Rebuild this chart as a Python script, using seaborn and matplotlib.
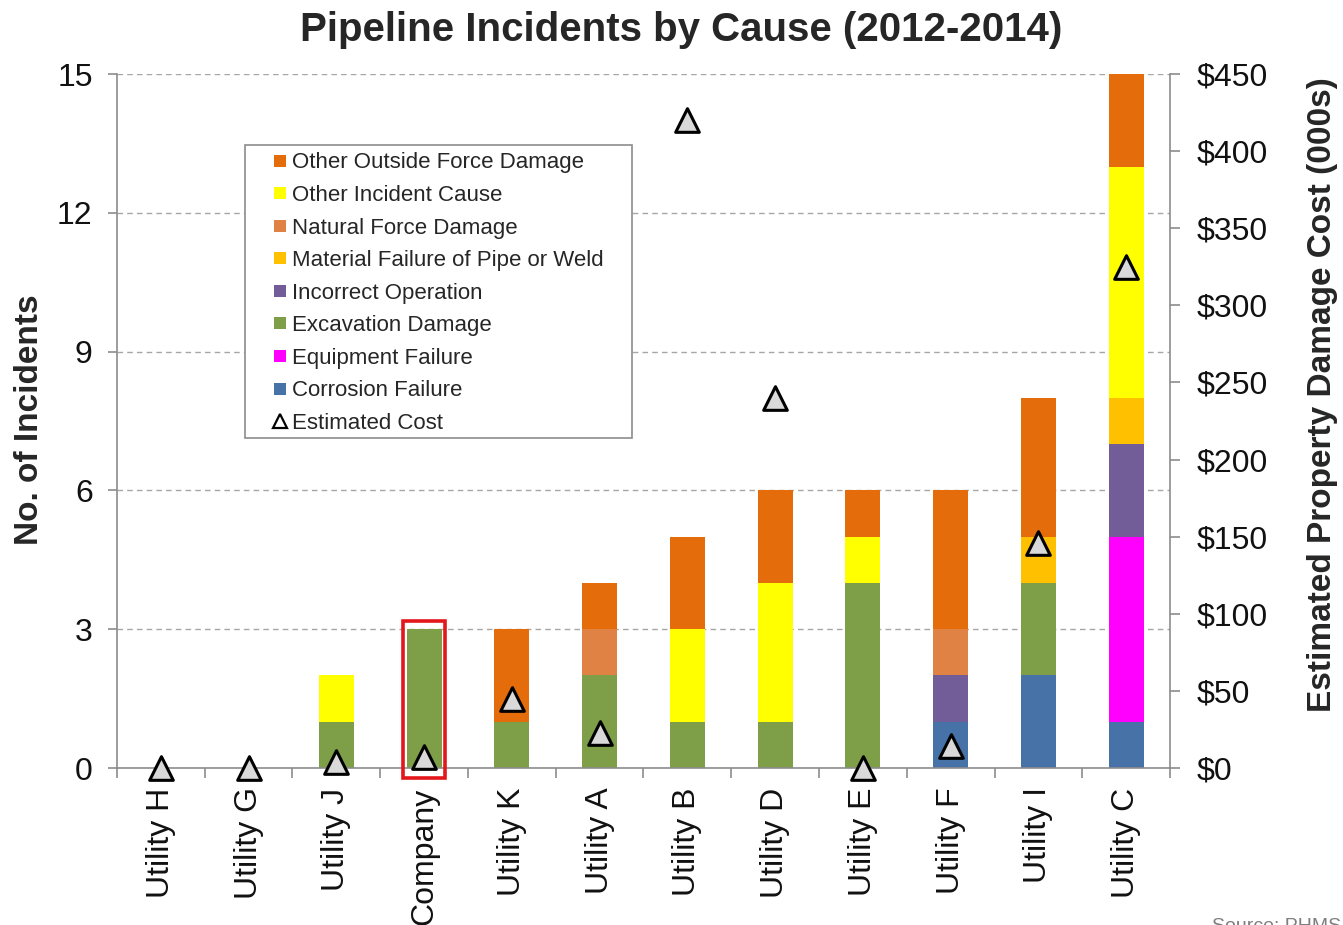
import numpy as np
import matplotlib
matplotlib.use("Agg")
import matplotlib.pyplot as plt
from matplotlib.lines import Line2D
from matplotlib.patches import Rectangle
from matplotlib.ticker import FuncFormatter
import seaborn as sns

# ---- data -------------------------------------------------------------
companies = ["Utility H", "Utility G", "Utility J", "Company", "Utility K",
             "Utility A", "Utility B", "Utility D", "Utility E", "Utility F",
             "Utility I", "Utility C"]

# incident counts per cause (stack order: bottom to top)
corrosion      = [0, 0, 0, 0, 0, 0, 0, 0, 0, 1, 2, 1]
equipment      = [0, 0, 0, 0, 0, 0, 0, 0, 0, 0, 0, 4]
excavation     = [0, 0, 1, 3, 1, 2, 1, 1, 4, 0, 2, 0]
incorrect_op   = [0, 0, 0, 0, 0, 0, 0, 0, 0, 1, 0, 2]
material       = [0, 0, 0, 0, 0, 0, 0, 0, 0, 0, 1, 1]
natural_force  = [0, 0, 0, 0, 0, 1, 0, 0, 0, 1, 0, 0]
other_incident = [0, 0, 1, 0, 0, 0, 2, 3, 1, 0, 0, 5]
other_outside  = [0, 0, 0, 0, 2, 1, 2, 2, 1, 3, 3, 2]

# estimated property damage cost, $000s
est_cost = [0, 0, 4, 7, 45, 23, 420, 240, 0, 14, 146, 325]

cause_names = ["Corrosion Failure", "Equipment Failure", "Excavation Damage",
               "Incorrect Operation", "Material Failure of Pipe or Weld",
               "Natural Force Damage", "Other Incident Cause",
               "Other Outside Force Damage"]
cause_values = [corrosion, equipment, excavation, incorrect_op, material,
                natural_force, other_incident, other_outside]
cause_colors = ["#4672A8", "#FF00FF", "#7F9E48", "#735D98", "#FFC000",
                "#DF8244", "#FFFF00", "#E46C0A"]

left_ticks = [0, 3, 6, 9, 12, 15]
right_ticks = [0, 50, 100, 150, 200, 250, 300, 350, 400, 450]

# ---- styling ----------------------------------------------------------
sns.set_theme(style="white")
plt.rcParams["font.family"] = ["Liberation Sans", "DejaVu Sans"]
spine_gray = "#8C8C8C"

fig = plt.figure(figsize=(13.43, 9.25), dpi=100)
ax = fig.add_axes([0.0871, 0.1697, 0.7841, 0.7503])

# stacked bars: draw cumulative totals from the top layer down
cum = np.zeros(len(companies))
tops = []
for vals in cause_values:
    cum = cum + np.asarray(vals, dtype=float)
    tops.append(cum.copy())
for top, color in reversed(list(zip(tops, cause_colors))):
    sns.barplot(x=companies, y=top, order=companies, color=color,
                saturation=1, width=0.4, edgecolor="none", linewidth=0,
                errorbar=None, ax=ax)

ax.set_xlim(-0.5, len(companies) - 0.5)
ax.set_ylim(0, 15)
ax.set_yticks(left_ticks)
ax.set_xticks(range(len(companies)))
ax.set_xticklabels(companies, rotation=90)
ax.set_xticks(np.arange(-0.5, len(companies), 1), minor=True)
ax.set_xlabel("")
ax.set_ylabel("")
ax.yaxis.grid(True, linestyle=(0, (4, 3)), color="#A6A6A6", linewidth=1)
ax.set_axisbelow(True)

for side in ["top", "right"]:
    ax.spines[side].set_visible(False)
for side in ["left", "bottom"]:
    ax.spines[side].set_color(spine_gray)
    ax.spines[side].set_linewidth(1.2)

ax.tick_params(axis="y", which="major", direction="out", length=6.5,
               width=1.2, color=spine_gray, labelsize=23, pad=11,
               left=True, labelcolor="#111111")
ax.tick_params(axis="x", which="major", length=0, labelsize=23, pad=14,
               labelcolor="#111111")
ax.tick_params(axis="x", which="minor", direction="out", length=7,
               width=1.2, color=spine_gray, bottom=True)

# highlight box around the company bar
ax.add_patch(Rectangle((3 - 0.235, -0.22), 0.47, 3.4, fill=False,
                       edgecolor="#E3161B", linewidth=2.6, clip_on=False,
                       zorder=4))

# cost markers on the secondary axis
ax2 = ax.twinx()
sns.scatterplot(x=np.arange(len(companies)), y=est_cost, ax=ax2, marker="^",
                s=290, color="#D9D9D9", edgecolor="black", linewidth=2.2,
                clip_on=False, zorder=5, legend=False)
ax2.set_xlim(-0.5, len(companies) - 0.5)
ax2.set_ylim(0, 450)
ax2.set_yticks(right_ticks)
ax2.yaxis.set_major_formatter(FuncFormatter(lambda v, p: f"${v:.0f}"))
ax2.set_ylabel("")
ax2.grid(False)
for side in ["top", "left", "bottom"]:
    ax2.spines[side].set_visible(False)
ax2.spines["right"].set_color(spine_gray)
ax2.spines["right"].set_linewidth(1.2)
ax2.tick_params(axis="y", direction="out", length=7, width=1.2,
                color=spine_gray, labelsize=23, pad=12, right=True,
                labelcolor="#111111")

# legend with its own frame
ax2.add_patch(Rectangle((0.1216, 0.4755), 0.3675, 0.4222,
                        transform=ax2.transAxes, facecolor="white",
                        edgecolor="#8C8C8C", linewidth=1.2, zorder=6))
handles = [Line2D([], [], marker="s", linestyle="none", markersize=9,
                  markerfacecolor=c, markeredgewidth=0)
           for c in reversed(cause_colors)]
handles.append(Line2D([], [], marker="^", linestyle="none", markersize=10,
                      markerfacecolor="white", markeredgecolor="black",
                      markeredgewidth=1.6))
labels = list(reversed(cause_names)) + ["Estimated Cost"]
leg = ax2.legend(handles, labels, loc="upper left",
                 bbox_to_anchor=(0.148, 0.887), borderaxespad=0,
                 borderpad=0, frameon=False, fontsize=16,
                 handlelength=0.65, handletextpad=0.22, labelspacing=0.52)
leg.set_zorder(7)

# titles and labels
fig.text(0.507, 0.968, "Pipeline Incidents by Cause (2012-2014)",
         ha="center", va="center", fontsize=29, fontweight="bold")
fig.text(30 / 1343, 0.546, "No. of Incidents", rotation=90, ha="center",
         va="center", fontsize=24, fontweight="bold")
fig.text(1322 / 1343, 0.573, "Estimated Property Damage Cost (000s)",
         rotation=90, ha="center", va="center", fontsize=24,
         fontweight="bold")
fig.text(1212 / 1343, 0.0076, "Source: PHMSA", ha="left", va="top",
         fontsize=14, color="#7F7F7F")

fig.savefig("out.png", dpi=100)
